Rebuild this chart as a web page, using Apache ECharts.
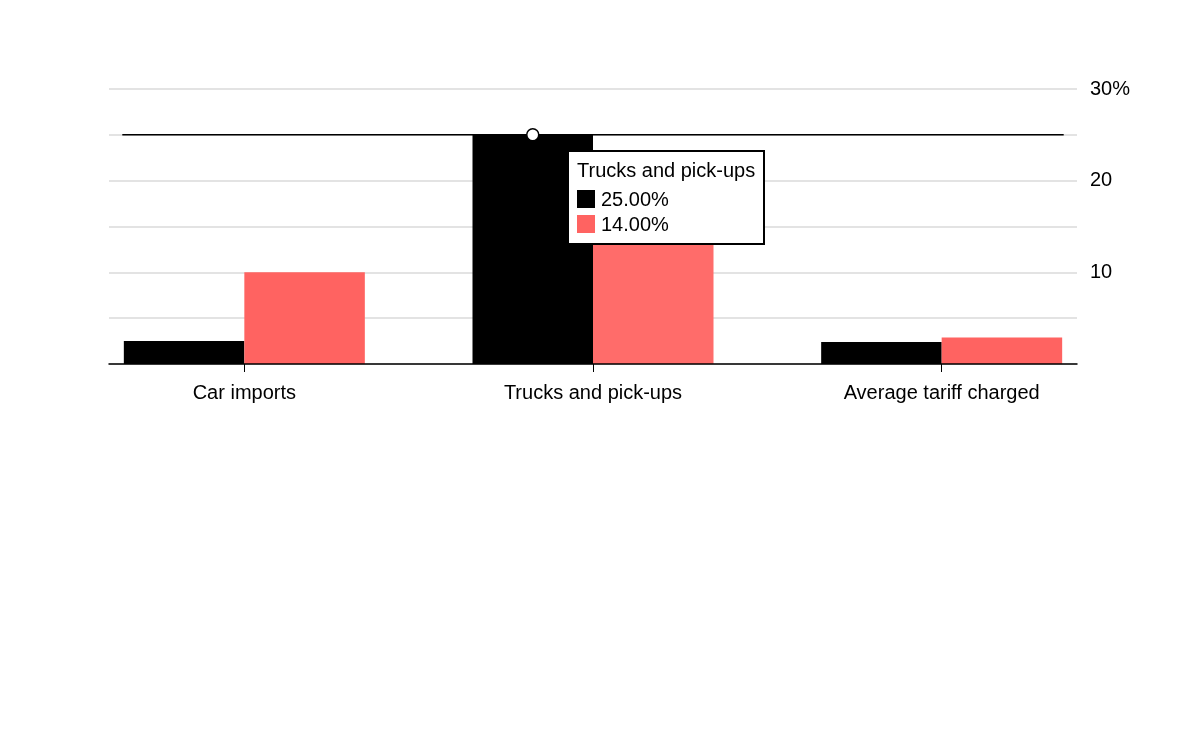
<!DOCTYPE html>
<html>
<head>
<meta charset="utf-8">
<script src="https://cdn.jsdelivr.net/npm/echarts@6/dist/echarts.min.js"></script>
<style>
html,body{margin:0;padding:0;background:#fff;}
#chart{width:1200px;height:732px;}
</style>
</head>
<body>
<div id="chart"></div>
<script>
const categories = ['Car imports', 'Trucks and pick-ups', 'Average tariff charged'];
const seriesBlack = [2.5, 25, 2.4];
const seriesRed = [10, 14, 2.9];
const refLineValue = 25;
const refLineExtent = [-0.35, 2.35];
const yTicks = [0, 5, 10, 15, 20, 25, 30];
const FONT = '"Liberation Sans", Arial, sans-serif';

const chart = echarts.init(document.getElementById('chart'), null, {renderer: 'canvas'});

const option = {
  animation: false,
  backgroundColor: '#ffffff',
  textStyle: {fontFamily: FONT},
  grid: [
    {left: 109, right: 123, top: 89, height: 275},
    {left: 70, right: 84, top: 89, height: 275}
  ],
  xAxis: [
    {type: 'category', gridIndex: 0, data: categories,
     axisLine: {show: true, lineStyle: {color: '#000', width: 1.5}},
     axisTick: {show: false}, axisLabel: {show: false}, splitLine: {show: false}, z: 3},
    {type: 'category', gridIndex: 1, data: categories,
     axisLine: {show: false},
     axisTick: {show: true, alignWithLabel: true, length: 8, lineStyle: {color: '#000', width: 1}},
     axisLabel: {show: true, margin: 19, fontSize: 20, color: '#000', fontFamily: FONT},
     splitLine: {show: false}},
    {type: 'value', gridIndex: 1, min: -0.5, max: 2.5, show: false}
  ],
  yAxis: [
    {type: 'value', gridIndex: 0, position: 'right', min: yTicks[0], max: yTicks[yTicks.length - 1], interval: 5,
     axisLine: {show: false}, axisTick: {show: false},
     splitLine: {show: true, lineStyle: {color: '#dadada', width: 1.5}},
     axisLabel: {margin: 13, fontSize: 20, color: '#000', fontFamily: FONT,
       formatter: function (v) {
         if (v === 0 || v % 10 !== 0) return '';
         return v === 30 ? v + '%' : String(v);
       }}},
    {type: 'value', gridIndex: 1, min: 0, max: 30, show: false}
  ],
  tooltip: {
    trigger: 'axis',
    triggerOn: 'none',
    alwaysShowContent: true,
    transitionDuration: 0,
    axisPointer: {type: 'none'},
    backgroundColor: '#fff',
    borderColor: '#000',
    borderWidth: 2,
    padding: [5, 8, 6, 8],
    extraCssText: 'box-shadow:none;border-radius:0;',
    position: function () { return [567, 150]; },
    formatter: function (params) {
      const bars = params.filter(p => p.seriesType === 'bar');
      if (!bars.length) return '';
      let html = '<div style="font-family:' + FONT.replace(/"/g, "'") + ';color:#000;">';
      html += '<div style="font-size:20px;line-height:26px;margin-bottom:4px;">' + bars[0].name + '</div>';
      bars.forEach(p => {
        html += '<div style="font-size:20px;line-height:25px;">' +
          '<span style="display:inline-block;width:18px;height:18px;background:' + p.color +
          ';vertical-align:-2px;margin-right:6px;"></span>' + p.value.toFixed(2) + '%</div>';
      });
      html += '</div>';
      return html;
    }
  },
  series: [
    {name: 'Black', type: 'bar', xAxisIndex: 1, yAxisIndex: 1, data: seriesBlack,
     barWidth: 120.5, barGap: '0%', itemStyle: {color: '#000'},
     markPoint: {
       symbol: 'circle', symbolSize: 12, silent: true,
       itemStyle: {color: '#fff', borderColor: '#000', borderWidth: 1.5},
       label: {show: false},
       data: [{coord: [categories[1], refLineValue]}]
     }},
    {name: 'Red', type: 'bar', xAxisIndex: 1, yAxisIndex: 1, data: seriesRed,
     barWidth: 120.5, itemStyle: {color: '#ff6361'}},
    {name: 'Ref', type: 'line', xAxisIndex: 2, yAxisIndex: 1, z: 3,
     data: [[refLineExtent[0], refLineValue], [refLineExtent[1], refLineValue]],
     showSymbol: false, symbol: 'none', silent: true, tooltip: {show: false},
     lineStyle: {color: '#000', width: 1.5}}
  ]
};

chart.setOption(option);
chart.dispatchAction({type: 'showTip', seriesIndex: 0, dataIndex: 1});
</script>
</body>
</html>
